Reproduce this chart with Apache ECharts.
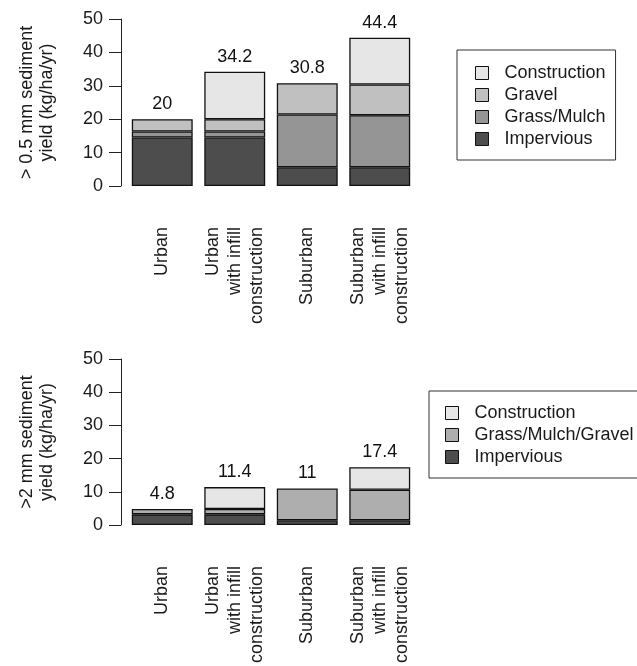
<!DOCTYPE html>
<html>
<head>
<meta charset="utf-8">
<script src="https://cdn.jsdelivr.net/npm/echarts@6/dist/echarts.min.js"></script>
<style>html,body{margin:0;padding:0;background:#fff;}#c{width:637px;height:666px;}</style>
</head>
<body>
<div id="c"></div>
<script>
const categories = ['Urban', 'Urban\nwith infill\nconstruction', 'Suburban', 'Suburban\nwith infill\nconstruction'];
const yTicks = [0, 10, 20, 30, 40, 50];

// > 0.5 mm panel
const topImpervious = [14.5, 14.5, 5.6, 5.6];
const topGrassMulch = [1.8, 1.8, 15.8, 15.6];
const topGravel = [3.7, 3.7, 9.4, 9.2];
const topConstruction = [null, 14.2, null, 14.0];
const topTotals = [20, 34.2, 30.8, 44.4];

// > 2 mm panel
const botImpervious = [3.2, 3.2, 1.4, 1.4];
const botGrassMulchGravel = [1.6, 1.6, 9.6, 9.2];
const botConstruction = [null, 6.6, null, 6.8];
const botTotals = [4.8, 11.4, 11, 17.4];

const C_CONS = '#E6E6E6', C_GRAV = '#C0C0C0', C_GRASS = '#959595', C_IMP = '#4D4D4D', C_GMG = '#AEAEAE';
const FONT = "'Liberation Sans', Arial, Helvetica, sans-serif";
const TXT = '#1a1a1a';

const chart = echarts.init(document.getElementById('c'), null, {renderer: 'canvas'});

function yAxis(gi, name) {
  return {
    type: 'value', gridIndex: gi, min: yTicks[0], max: yTicks[yTicks.length - 1], interval: 10,
    offset: 5,
    name: name, nameLocation: 'middle', nameGap: 64, nameRotate: 90,
    nameTextStyle: {fontFamily: FONT, fontSize: 18, color: TXT, lineHeight: 20, align: 'center'},
    axisLine: {show: true, lineStyle: {color: '#222', width: 1}},
    axisTick: {show: true, inside: false, length: 12, lineStyle: {color: '#222', width: 1}},
    axisLabel: {fontFamily: FONT, fontSize: 18, color: TXT, margin: 18},
    splitLine: {show: false}
  };
}
function xAxis(gi) {
  return {
    type: 'category', gridIndex: gi, data: categories,
    axisLine: {show: false}, axisTick: {show: false},
    axisLabel: {interval: 0, rotate: 90, fontFamily: FONT, fontSize: 18, color: TXT, lineHeight: 22, margin: 41}
  };
}
function bar(name, data, color, gi, stack) {
  return {
    type: 'bar', name: name, data: data, xAxisIndex: gi, yAxisIndex: gi, stack: stack,
    barCategoryGap: '16%',
    itemStyle: {color: color, borderColor: '#111', borderWidth: 1.3},
    emphasis: {disabled: true}
  };
}
function totals(data, gi) {
  return {
    type: 'scatter', name: 'Total', data: data, xAxisIndex: gi, yAxisIndex: gi,
    symbolSize: 0, itemStyle: {color: '#000'}, silent: true,
    label: {show: true, position: 'top', distance: 6, fontFamily: FONT, fontSize: 18, color: '#111',
      opacity: 1, formatter: p => String(p.value)}
  };
}
function legend(left, top, data, pad) {
  return {
    orient: 'vertical', left: left, top: top, data: data, icon: 'rect',
    borderColor: '#333', borderWidth: 1, padding: pad,
    itemWidth: 13, itemHeight: 13, itemGap: 0,
    itemStyle: {borderColor: '#111', borderWidth: 1},
    selectedMode: false,
    textStyle: {fontFamily: FONT, fontSize: 18, color: TXT, lineHeight: 22, padding: [0, 0, 0, 11]}
  };
}

chart.setOption({
  animation: false,
  backgroundColor: '#fff',
  grid: [
    {left: 126, width: 290, top: 19, height: 167},
    {left: 126, width: 290, top: 359, height: 168}
  ],
  xAxis: [xAxis(0), xAxis(1)],
  yAxis: [yAxis(0, '> 0.5 mm sediment\nyield (kg/ha/yr)'), yAxis(1, '>2 mm sediment\nyield (kg/ha/yr)')],
  legend: [
    legend(457, 50, ['Construction', 'Gravel', 'Grass/Mulch', 'Impervious'], [12, 10, 10, 18]),
    legend(429, 391, ['Construction', 'Grass/Mulch/Gravel', 'Impervious'], [11, 10, 10, 16])
  ],
  series: [
    bar('Impervious', topImpervious, C_IMP, 0, 'a'),
    bar('Grass/Mulch', topGrassMulch, C_GRASS, 0, 'a'),
    bar('Gravel', topGravel, C_GRAV, 0, 'a'),
    bar('Construction', topConstruction, C_CONS, 0, 'a'),
    totals(topTotals, 0),
    bar('Impervious', botImpervious, C_IMP, 1, 'b'),
    bar('Grass/Mulch/Gravel', botGrassMulchGravel, C_GMG, 1, 'b'),
    bar('Construction', botConstruction, C_CONS, 1, 'b'),
    totals(botTotals, 1)
  ]
});
</script>
</body>
</html>
